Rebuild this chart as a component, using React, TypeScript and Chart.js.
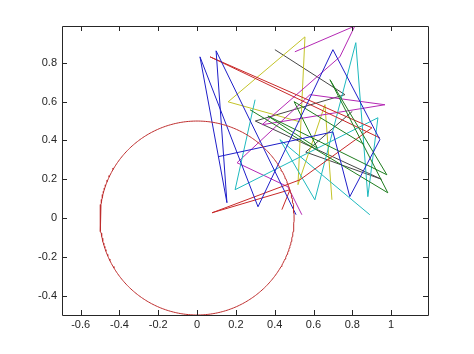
import React, { useEffect, useRef } from "react";
import { Chart, registerables } from "chart.js";

Chart.register(...registerables);

// Axis ticks
const xTicks = [-0.6, -0.4, -0.2, 0, 0.2, 0.4, 0.6, 0.8, 1];
const yTicks = [-0.4, -0.2, 0, 0.2, 0.4, 0.6, 0.8];
const xRange = [-0.696, 1.19];
const yRange = [-0.5, 0.99];

// Circle (center and radius)
const circleCenter = [0, 0];
const circleRadius = 0.5;

// Random polylines, one per colour
const blueX = [0.510, 0.098, 0.154, 0.015, 0.314, 0.700, 0.942, 0.787, 0.700, 0.108];
const blueY = [0.017, 0.862, 0.079, 0.831, 0.058, 0.868, 0.404, 0.110, 0.444, 0.316];

const greenX = [0.273, 0.983, 0.685, 0.978, 0.365, 0.620, 0.500, 0.860];
const greenY = [0.558, 0.130, 0.713, 0.223, 0.526, 0.360, 0.600, 0.380];

const redX = [0.437, 0.479, 0.077, 0.530, 0.901, 0.067, 0.942];
const redY = [0.043, 0.146, 0.027, 0.197, 0.465, 0.831, 0.413];

const cyanX = [0.299, 0.196, 0.932, 0.880, 0.818, 0.607, 0.427, 0.890];
const cyanY = [0.610, 0.146, 0.517, 0.110, 0.904, 0.094, 0.404, 0.017];

const magentaX = [0.540, 0.468, 0.206, 0.582, 0.968, 0.335, 0.736, 0.813, 0.504];
const magentaY = [0.017, 0.161, 0.285, 0.636, 0.584, 0.481, 0.831, 0.990, 0.857];

const yellowX = [0.530, 0.160, 0.556, 0.520, 0.659, 0.695];
const yellowY = [0.496, 0.599, 0.934, 0.172, 0.584, 0.094];

const darkX = [0.401, 0.762, 0.300, 0.950, 0.560, 0.800];
const darkY = [0.868, 0.636, 0.500, 0.200, 0.340, 0.550];

const zip = (xs: number[], ys: number[]) => xs.map((x, i) => ({ x, y: ys[i] }));

function circlePoints() {
  const pts: { x: number; y: number }[] = [];
  const n = 360;
  for (let i = 0; i <= n; i++) {
    const t = (i / n) * 2 * Math.PI;
    pts.push({
      x: circleCenter[0] + circleRadius * Math.cos(t),
      y: circleCenter[1] + circleRadius * Math.sin(t),
    });
  }
  return pts;
}

const framePlugin = {
  id: "frame",
  afterDraw(chart: any) {
    const { ctx, chartArea } = chart;
    const { left, top, right, bottom } = chartArea;
    const xs = chart.scales.x;
    const ys = chart.scales.y;
    ctx.save();
    ctx.strokeStyle = "#262626";
    ctx.lineWidth = 1;
    ctx.beginPath();
    ctx.rect(Math.round(left) + 0.5, Math.round(top) + 0.5, Math.round(right - left), Math.round(bottom - top));
    const L = 5;
    xTicks.forEach((v) => {
      const p = Math.round(xs.getPixelForValue(v)) + 0.5;
      ctx.moveTo(p, bottom);
      ctx.lineTo(p, bottom - L);
      ctx.moveTo(p, top);
      ctx.lineTo(p, top + L);
    });
    yTicks.forEach((v) => {
      const p = Math.round(ys.getPixelForValue(v)) + 0.5;
      ctx.moveTo(left, p);
      ctx.lineTo(left + L, p);
      ctx.moveTo(right, p);
      ctx.lineTo(right - L, p);
    });
    ctx.stroke();
    ctx.restore();
  },
};

export default function App() {
  const ref = useRef<HTMLCanvasElement | null>(null);
  useEffect(() => {
    if (!ref.current) return;
    const mk = (data: any, color: string) => ({
      data,
      borderColor: color,
      backgroundColor: color,
      borderWidth: 1,
      pointRadius: 0,
      showLine: true,
      tension: 0,
      fill: false,
    });
    const fmt = (v: any) => String(Math.round(Number(v) * 10) / 10);
    const chart = new Chart(ref.current, {
      type: "scatter",
      data: {
        datasets: [
          mk(circlePoints(), "rgb(190,45,45)"),
          mk(zip(blueX, blueY), "rgb(30,30,200)"),
          mk(zip(greenX, greenY), "rgb(30,125,30)"),
          mk(zip(redX, redY), "rgb(200,40,40)"),
          mk(zip(cyanX, cyanY), "rgb(30,185,190)"),
          mk(zip(magentaX, magentaY), "rgb(180,40,180)"),
          mk(zip(yellowX, yellowY), "rgb(195,195,40)"),
          mk(zip(darkX, darkY), "rgb(70,70,70)"),
        ],
      },
      options: {
        animation: false,
        responsive: true,
        maintainAspectRatio: false,
        layout: { padding: { left: 0, top: 26, right: 46, bottom: 0 } },
        plugins: { legend: { display: false }, tooltip: { enabled: false } },
        scales: {
          x: {
            type: "linear",
            min: xRange[0],
            max: xRange[1],
            grid: { display: false, drawTicks: false },
            border: { display: false },
            afterBuildTicks: (s: any) => {
              s.ticks = xTicks.map((value) => ({ value }));
            },
            afterFit: (s: any) => {
              s.height = 39;
            },
            ticks: {
              callback: fmt,
              color: "#262626",
              font: { family: "Liberation Sans, Arial, sans-serif", size: 11 },
              padding: 3,
              maxRotation: 0,
              autoSkip: false,
            },
          },
          y: {
            type: "linear",
            min: yRange[0],
            max: yRange[1],
            grid: { display: false, drawTicks: false },
            border: { display: false },
            afterBuildTicks: (s: any) => {
              s.ticks = yTicks.map((value) => ({ value }));
            },
            afterFit: (s: any) => {
              s.width = 62;
            },
            ticks: {
              callback: fmt,
              color: "#262626",
              font: { family: "Liberation Sans, Arial, sans-serif", size: 11 },
              padding: 5,
              autoSkip: false,
            },
          },
        },
      },
      plugins: [framePlugin],
    });
    return () => chart.destroy();
  }, []);
  return (
    <div style={{ position: "fixed", left: 0, top: 0, width: 474, height: 354, background: "#fff" }}>
      <canvas ref={ref} />
    </div>
  );
}
